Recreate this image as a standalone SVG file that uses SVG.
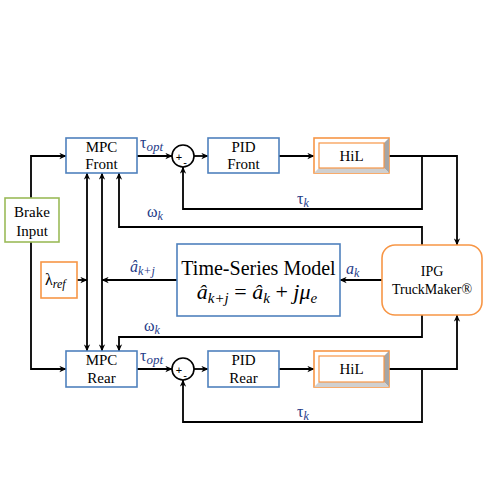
<svg xmlns="http://www.w3.org/2000/svg" width="490" height="489" viewBox="0 0 490 489">
<defs>
<marker id="ah" viewBox="0 0 10 10" refX="9.5" refY="5" markerWidth="7" markerHeight="7" markerUnits="userSpaceOnUse" orient="auto-start-reverse">
<path d="M0,0.5 L10,5 L0,9.5 L3,5 Z" fill="#000"/>
</marker>
<style>
text{font-family:"Liberation Serif","Times New Roman","DejaVu Serif",serif}
.bx{fill:#fff;stroke:#4F81BD;stroke-width:1.6}
.gb{fill:#fff;stroke:#9BBB59;stroke-width:1.6}
.ob{fill:#fff;stroke:#F79646;stroke-width:1.6}
.t{font-size:15px;fill:#000;text-anchor:middle}
.m{font-style:italic;fill:#1F3C88}
.g{fill:#1F3C88;font-size:16px}
.c{fill:none;stroke:#000;stroke-width:1.8}
.a{marker-end:url(#ah)}
.bl{fill:#a6a6a6}
.bd{fill:#d0d0d0}
.pm{font-family:"Liberation Sans",sans-serif;font-size:11px;text-anchor:middle}
</style>
</defs>
<rect width="490" height="489" fill="#fff"/>

<g id="connectors" class="c">
<path class="a" d="M31,198 V156 H66"/>
<path class="a" d="M31,242 V369 H66"/>
<path class="a" d="M137,156 H172"/>
<path class="a" d="M194,156 H208"/>
<path class="a" d="M279,156 H314"/>
<path class="a" d="M389,156 H457 V245"/>
<path class="a" d="M422,156 V209 H183 V167"/>
<path class="a" d="M422,245 V227 H119 V173"/>
<path class="a" d="M422,315 V337 H119 V351"/>
<path class="a" d="M137,369 H172"/>
<path class="a" d="M194,369 H208"/>
<path class="a" d="M279,369 H314"/>
<path class="a" d="M389,369 H457 V315"/>
<path class="a" d="M422,369 V422 H183 V380"/>
<path class="a" d="M382,280 H340"/>
<path class="a" d="M177,280 H102"/>
<path class="a" d="M77,280 H87"/>
<path class="a" style="marker-start:url(#ah)" d="M87,173 V351"/>
<path class="a" style="marker-start:url(#ah)" d="M102,173 V351"/>
</g>

<g id="brake">
<rect class="gb" x="5" y="198" width="54" height="44"/>
<text class="t" x="32" y="217">Brake</text>
<text class="t" x="32" y="236">Input</text>
</g>

<g id="mpcFront">
<rect class="bx" x="66" y="138" width="71" height="35"/>
<text class="t" x="101.5" y="152">MPC</text>
<text class="t" x="101.5" y="169">Front</text>
</g>

<g id="sumFront">
<circle cx="183" cy="156" r="11" fill="#fff" stroke="#000" stroke-width="1.6"/>
<text class="pm" x="179" y="161">+</text>
<text class="pm" x="185" y="166">-</text>
</g>

<g id="pidFront">
<rect class="bx" x="208" y="138" width="71" height="35"/>
<text class="t" x="243.5" y="152">PID</text>
<text class="t" x="243.5" y="169">Front</text>
</g>

<g id="hilFront">
<rect class="ob" x="314" y="138" width="75" height="35"/>
<polygon class="bl" points="389,138 389,173 384,168 384,143"/>
<polygon class="bd" points="314,173 389,173 384,168 319,168"/>
<rect class="ob" x="319" y="143" width="65" height="25" style="stroke-width:1.2"/>
<text class="t" x="351.5" y="161">HiL</text>
</g>

<g id="lambda">
<rect class="ob" x="41" y="262" width="36" height="36"/>
<text x="45" y="285" style="font-size:16px">λ<tspan style="font-style:italic;font-size:12px" dy="3">ref</tspan></text>
</g>

<g id="timeSeries">
<rect class="bx" x="177" y="244" width="163" height="72"/>
<text class="t" x="258.5" y="275" style="font-size:20px">Time-Series Model</text>
<text x="257" y="299" style="font-style:italic;font-size:22px;text-anchor:middle">â<tspan style="font-size:15px" dy="4">k+j</tspan><tspan dy="-4" style="font-style:normal"> =  </tspan>â<tspan style="font-size:15px" dy="4">k</tspan><tspan dy="-4" style="font-style:normal"> + </tspan>jμ<tspan style="font-size:15px" dy="4">e</tspan></text>
</g>

<g id="ipg">
<rect class="ob" x="382" y="245" width="100" height="70" rx="13"/>
<text class="t" x="432" y="276" style="font-size:14px">IPG</text>
<text class="t" x="432" y="294" style="font-size:14px">TruckMaker®</text>
</g>

<g id="mpcRear">
<rect class="bx" x="66" y="351" width="71" height="36"/>
<text class="t" x="101.5" y="365">MPC</text>
<text class="t" x="101.5" y="383">Rear</text>
</g>

<g id="sumRear">
<circle cx="183" cy="369" r="11" fill="#fff" stroke="#000" stroke-width="1.6"/>
<text class="pm" x="179" y="374">+</text>
<text class="pm" x="185" y="379">-</text>
</g>

<g id="pidRear">
<rect class="bx" x="208" y="351" width="71" height="36"/>
<text class="t" x="243.5" y="365">PID</text>
<text class="t" x="243.5" y="383">Rear</text>
</g>

<g id="hilRear">
<rect class="ob" x="314" y="351" width="75" height="36"/>
<polygon class="bl" points="389,351 389,387 384,382 384,356"/>
<polygon class="bd" points="314,387 389,387 384,382 319,382"/>
<rect class="ob" x="319" y="356" width="65" height="26" style="stroke-width:1.2"/>
<text class="t" x="351.5" y="374">HiL</text>
</g>

<g id="labels">
<text class="g" x="140" y="148">τ<tspan class="m" style="font-size:13px" dy="3">opt</tspan></text>
<text class="g" x="140" y="361">τ<tspan class="m" style="font-size:13px" dy="3">opt</tspan></text>
<text class="g" x="297" y="204">τ<tspan class="m" style="font-size:12px" dy="3">k</tspan></text>
<text class="g" x="297" y="417">τ<tspan class="m" style="font-size:12px" dy="3">k</tspan></text>
<text class="g" x="147" y="217">ω<tspan class="m" style="font-size:12px" dy="3">k</tspan></text>
<text class="g" x="144" y="331">ω<tspan class="m" style="font-size:12px" dy="3">k</tspan></text>
<text class="m" x="130" y="272" style="font-size:16px">â<tspan style="font-size:12px" dy="3">k+j</tspan></text>
<text class="m" x="346" y="274" style="font-size:16px">a<tspan style="font-size:12px" dy="3">k</tspan></text>
</g>
</svg>
